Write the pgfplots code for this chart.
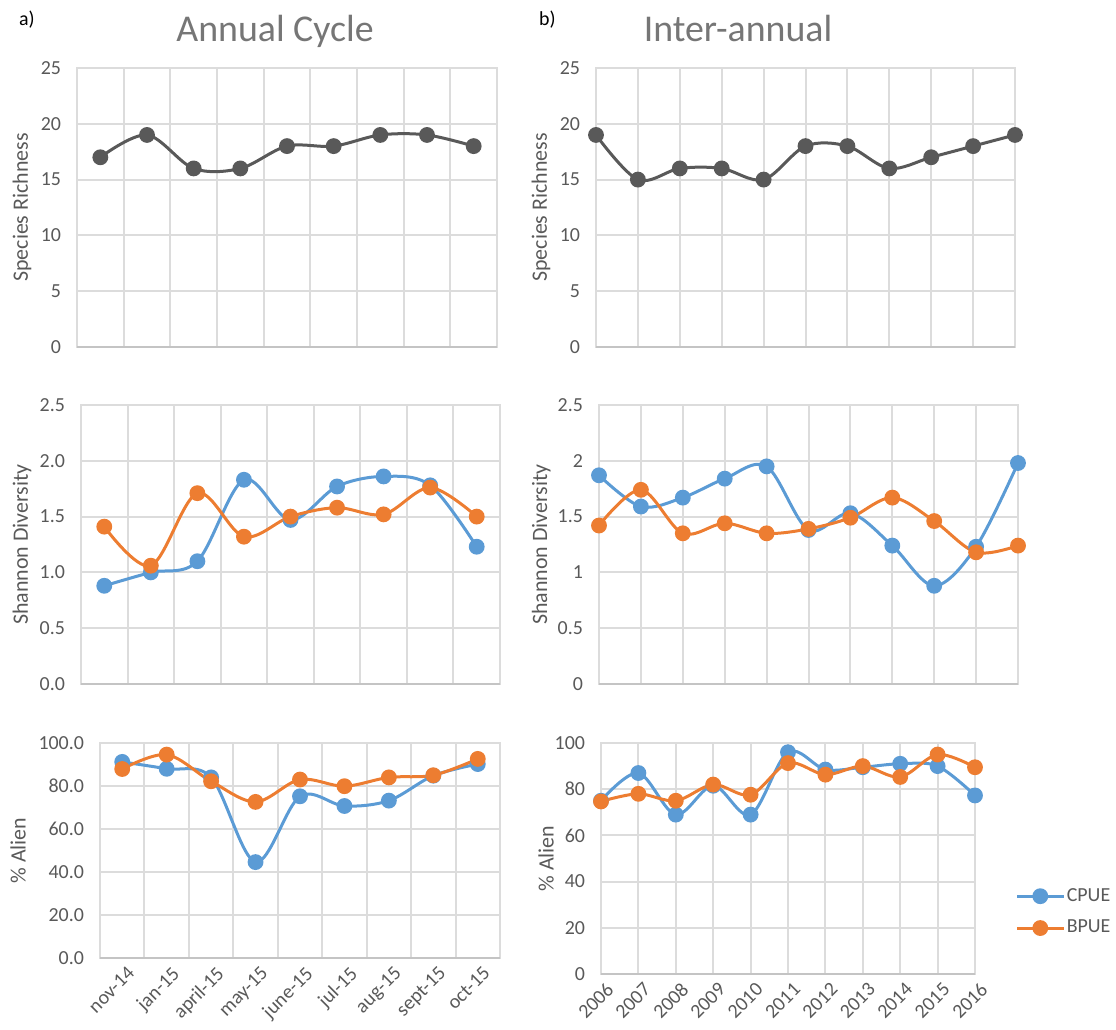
\documentclass[border=0pt]{standalone}
\usepackage{pgfplots}
\pgfplotsset{compat=1.18}
\usepackage{fontspec}
\setmainfont{Carlito}
\definecolor{gridc}{HTML}{DCDCDC}
\definecolor{axc}{HTML}{C4C4C4}
\definecolor{txt}{HTML}{595959}
\definecolor{titlec}{HTML}{767676}
\definecolor{cpue}{HTML}{5B9BD5}
\definecolor{bpue}{HTML}{ED7D31}
\definecolor{rich}{HTML}{595959}
\pgfplotsset{
  base/.style={scale only axis, clip=false, anchor=south west,
    axis line style={draw=gridc, line width=1bp},
    grid style={draw=gridc, line width=1bp},
    major tick length=0pt, minor tick length=0pt,
    tick label style={font=\fontsize{10}{12}\selectfont, text=txt},
    yticklabel style={xshift=-4.5bp},
    label style={font=\fontsize{11}{13}\selectfont, text=txt},
    /pgf/number format/assume math mode=true,
    ymin=0, ymajorgrids,
    every axis plot/.append style={line width=1.5bp, smooth, tension=0.55, mark=*, mark size=3.2bp, mark options={solid}},
  },
  leftcol/.style={base, xmin=-0.5, xmax=8.5, xtick={0,...,8},
    minor xtick={-0.5,0.5,...,8.5}, xminorgrids, xmajorgrids=false},
  rightcol/.style={base, xmin=0, xmax=10, xtick={0,...,10}, xmajorgrids},
  onedec/.style={yticklabel style={/pgf/number format/.cd, fixed, fixed zerofill, precision=1}},
}
\begin{document}
\begin{tikzpicture}
\useasboundingbox (0,0) rectangle (558bp,515bp);
% titles
\node[font=\fontsize{10}{12}\selectfont, anchor=base west] at (6bp,502bp) {a)};
\node[font=\fontsize{10}{12}\selectfont, anchor=base west] at (266bp,502bp) {b)};
\node[font=\fontsize{19}{22}\selectfont, text=titlec, anchor=base] at (137.5bp,494bp) {Annual Cycle};
\node[font=\fontsize{19}{22}\selectfont, text=titlec, anchor=base] at (369bp,494bp) {Inter-annual};

% ---- Top left
\begin{axis}[leftcol, at={(38.5bp,341.5bp)}, width=210bp, height=139.5bp,
  ymax=25, ytick={0,5,...,25}, xticklabels={},
  ylabel={Species Richness}, ylabel style={at={(axis description cs:-0.131,0.5)}, anchor=center}]
\addplot[rich, mark options={fill=rich}] coordinates {(0,17) (1,19) (2,16) (3,16) (4,18) (5,18) (6,19) (7,19) (8,18)};
\draw[axc, line width=1bp] (rel axis cs:0,0) -- (rel axis cs:1,0);
\end{axis}

% ---- Middle left
\begin{axis}[leftcol, onedec, at={(40.5bp,173bp)}, width=209.5bp, height=139.5bp,
  ymax=2.5, ytick={0,0.5,...,2.5}, xticklabels={},
  ylabel={Shannon Diversity}, ylabel style={at={(axis description cs:-0.141,0.5)}, anchor=center}]
\addplot[cpue, mark options={fill=cpue}] coordinates {(0,0.88) (1,1.00) (2,1.10) (3,1.83) (4,1.47) (5,1.77) (6,1.86) (7,1.78) (8,1.23)};
\addplot[bpue, mark options={fill=bpue}] coordinates {(0,1.41) (1,1.06) (2,1.71) (3,1.32) (4,1.50) (5,1.58) (6,1.52) (7,1.76) (8,1.50)};
\draw[axc, line width=1bp] (rel axis cs:0,0) -- (rel axis cs:1,0);
\end{axis}

% ---- Bottom left
\begin{axis}[leftcol, onedec, at={(50bp,36bp)}, width=200bp, height=107.5bp,
  ymax=100, ytick={0,20,...,100},
  xticklabels={nov-14,jan-15,april-15,may-15,june-15,jul-15,aug-15,sept-15,oct-15},
  xticklabel style={rotate=45, anchor=north east, inner sep=1bp, yshift=-3bp},
  ylabel={\% Alien}, ylabel style={at={(axis description cs:-0.205,0.5)}, anchor=center}]
\addplot[cpue, mark options={fill=cpue}] coordinates {(0,91.2) (1,88.0) (2,84.0) (3,44.6) (4,75.2) (5,70.7) (6,73.2) (7,84.8) (8,90.2)};
\addplot[bpue, mark options={fill=bpue}] coordinates {(0,87.9) (1,94.6) (2,82.2) (3,72.6) (4,83.0) (5,79.9) (6,84.0) (7,85.0) (8,92.6)};
\draw[axc, line width=1bp] (rel axis cs:0,0) -- (rel axis cs:1,0);
\end{axis}

% ---- Top right
\begin{axis}[rightcol, at={(298bp,341.5bp)}, width=209.5bp, height=139.5bp,
  ymax=25, ytick={0,5,...,25}, xticklabels={},
  ylabel={Species Richness}, ylabel style={at={(axis description cs:-0.131,0.5)}, anchor=center}]
\addplot[rich, mark options={fill=rich}] coordinates {(0,19) (1,15) (2,16) (3,16) (4,15) (5,18) (6,18) (7,16) (8,17) (9,18) (10,19)};
\draw[axc, line width=1bp] (rel axis cs:0,0) -- (rel axis cs:1,0);
\end{axis}

% ---- Middle right
\begin{axis}[rightcol, at={(299.5bp,173bp)}, width=209.5bp, height=139.5bp,
  ymax=2.5, ytick={0,0.5,1,1.5,2,2.5}, yticklabels={0,0.5,1,1.5,2,2.5}, xticklabels={},
  ylabel={Shannon Diversity}, ylabel style={at={(axis description cs:-0.138,0.5)}, anchor=center}]
\addplot[cpue, mark options={fill=cpue}] coordinates {(0,1.87) (1,1.59) (2,1.67) (3,1.84) (4,1.95) (5,1.38) (6,1.53) (7,1.24) (8,0.88) (9,1.23) (10,1.98)};
\addplot[bpue, mark options={fill=bpue}] coordinates {(0,1.42) (1,1.74) (2,1.35) (3,1.44) (4,1.35) (5,1.39) (6,1.49) (7,1.67) (8,1.46) (9,1.18) (10,1.24)};
\draw[axc, line width=1bp] (rel axis cs:0,0) -- (rel axis cs:1,0);
\end{axis}

% ---- Bottom right
\begin{axis}[rightcol, at={(300.5bp,28bp)}, width=187bp, height=115.5bp,
  ymax=100, ytick={0,20,...,100},
  xticklabels={2006,2007,2008,2009,2010,2011,2012,2013,2014,2015,2016},
  xticklabel style={rotate=45, anchor=north east, inner sep=1bp, yshift=-3bp},
  ylabel={\% Alien}, ylabel style={at={(axis description cs:-0.147,0.5)}, anchor=center},
  legend style={at={(axis description cs:1.108,0.268)}, anchor=west, draw=none, fill=none,
    inner sep=0pt, nodes={inner sep=1bp},
    font=\fontsize{10}{12}\selectfont, text=txt, row sep=6bp},
  legend cell align=left,
  legend image code/.code={\draw[#1, mark repeat=2, mark phase=2] plot coordinates {(0bp,0bp) (11.5bp,0bp) (23bp,0bp)};}]
\addplot[cpue, mark options={fill=cpue}] coordinates {(0,75) (1,87) (2,69) (3,81.5) (4,69) (5,96) (6,88.5) (7,89.5) (8,91) (9,90) (10,77.3)};
\addlegendentry{CPUE}
\addplot[bpue, mark options={fill=bpue}] coordinates {(0,74.7) (1,78) (2,75) (3,82) (4,77.6) (5,91.3) (6,86.3) (7,90) (8,85.3) (9,95) (10,89.5)};
\addlegendentry{BPUE}
\draw[axc, line width=1bp] (rel axis cs:0,0) -- (rel axis cs:1,0);
\end{axis}
\end{tikzpicture}
\end{document}
